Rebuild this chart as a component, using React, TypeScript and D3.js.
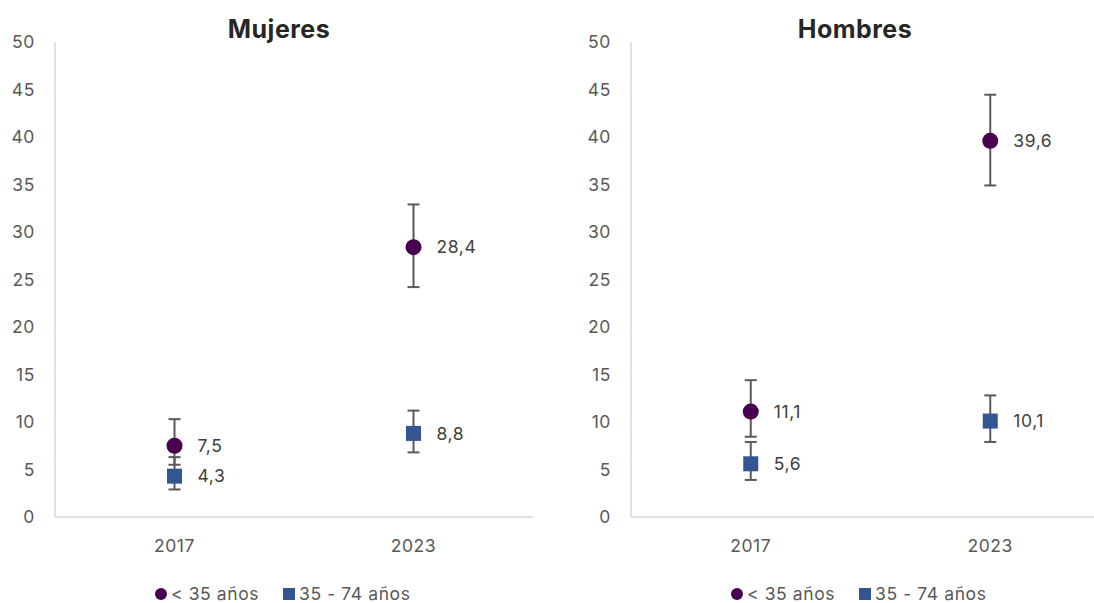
import React from "react";
import * as d3 from "d3";

const categories = ["2017", "2023"];
const yTicks = [0, 5, 10, 15, 20, 25, 30, 35, 40, 45, 50];
const seriesNames = ["< 35 años", "35 - 74 años"];

const mujeresYoung = [7.5, 28.4];
const mujeresYoungLow = [5.5, 24.2];
const mujeresYoungHigh = [10.3, 32.9];
const mujeresOld = [4.3, 8.8];
const mujeresOldLow = [2.9, 6.8];
const mujeresOldHigh = [6.3, 11.2];

const hombresYoung = [11.1, 39.6];
const hombresYoungLow = [8.45, 34.9];
const hombresYoungHigh = [14.4, 44.45];
const hombresOld = [5.6, 10.1];
const hombresOldLow = [3.9, 7.9];
const hombresOldHigh = [7.9, 12.8];

const COLOR_YOUNG = "#48004f";
const COLOR_OLD = "#335592";
const FONT = "Inter, 'Open Sans', sans-serif";
const FS = 17.5;
const LS = 0.6;

type Series = { values: number[]; low: number[]; high: number[]; shape: "circle" | "square"; color: string };

function Panel(props: {
  title: string;
  titleX: number;
  x0: number;
  x1: number;
  series: Series[];
}) {
  const { title, titleX, x0, x1, series } = props;
  const y = d3.scaleLinear().domain([0, 50]).range([517, 42]);
  const x = d3.scaleBand<string>().domain(categories).range([x0, x1]);
  const cx = (c: string) => (x(c) as number) + x.bandwidth() / 2;
  const legendX = titleX - 118;
  return (
    <g>
      <text x={titleX} y={38} textAnchor="middle" fontFamily={FONT} fontWeight={700} fontSize={25} letterSpacing={0.5} fill="#262626">
        {title}
      </text>
      {yTicks.map((t) => (
        <text key={t} x={x0 - 20} y={y(t)} dy="0.35em" textAnchor="end" fontFamily={FONT} fontSize={FS} letterSpacing={LS} fill="#595959">
          {t}
        </text>
      ))}
      <line x1={x0} x2={x0} y1={y(50)} y2={y(0)} stroke="#d9d9d9" strokeWidth={1.5} />
      <line x1={x0} x2={x1} y1={y(0)} y2={y(0)} stroke="#d9d9d9" strokeWidth={1.5} />
      {categories.map((c) => (
        <text key={c} x={cx(c)} y={546} dy="0.35em" textAnchor="middle" fontFamily={FONT} fontSize={FS} letterSpacing={LS} fill="#595959">
          {c}
        </text>
      ))}
      {series.map((s, si) =>
        categories.map((c, i) => {
          const px = cx(c);
          const yl = y(s.low[i]);
          const yh = y(s.high[i]);
          return (
            <g key={si + "-" + c}>
              <line x1={px} x2={px} y1={yh} y2={yl} stroke="#595959" strokeWidth={2} />
              <line x1={px - 6} x2={px + 6} y1={yh} y2={yh} stroke="#595959" strokeWidth={2} />
              <line x1={px - 6} x2={px + 6} y1={yl} y2={yl} stroke="#595959" strokeWidth={2} />
            </g>
          );
        })
      )}
      {series.map((s, si) =>
        categories.map((c, i) => {
          const px = cx(c);
          const py = y(s.values[i]);
          return (
            <g key={"m" + si + "-" + c}>
              {s.shape === "circle" ? (
                <circle cx={px} cy={py} r={8} fill={s.color} />
              ) : (
                <rect x={px - 7.5} y={py - 7.5} width={15} height={15} fill={s.color} />
              )}
              <text x={px + 23} y={py} dy="0.35em" fontFamily={FONT} fontSize={FS} letterSpacing={LS} fill="#404040">
                {d3.format(".1f")(s.values[i]).replace(".", ",")}
              </text>
            </g>
          );
        })
      )}
      <g>
        <circle cx={legendX} cy={594} r={6} fill={COLOR_YOUNG} />
        <text x={legendX + 10} y={594} dy="0.35em" fontFamily={FONT} fontSize={FS} letterSpacing={LS} fill="#595959">
          {seriesNames[0]}
        </text>
        <rect x={legendX + 122} y={588} width={12} height={12} fill={COLOR_OLD} />
        <text x={legendX + 138} y={594} dy="0.35em" fontFamily={FONT} fontSize={FS} letterSpacing={LS} fill="#595959">
          {seriesNames[1]}
        </text>
      </g>
    </g>
  );
}

export default function App() {
  return (
    <svg width={1094} height={603} style={{ position: "absolute", left: 0, top: 0, background: "#fff" }}>
      <Panel
        title="Mujeres"
        titleX={279}
        x0={55}
        x1={533}
        series={[
          { values: mujeresYoung, low: mujeresYoungLow, high: mujeresYoungHigh, shape: "circle", color: COLOR_YOUNG },
          { values: mujeresOld, low: mujeresOldLow, high: mujeresOldHigh, shape: "square", color: COLOR_OLD },
        ]}
      />
      <Panel
        title="Hombres"
        titleX={855}
        x0={631}
        x1={1110}
        series={[
          { values: hombresYoung, low: hombresYoungLow, high: hombresYoungHigh, shape: "circle", color: COLOR_YOUNG },
          { values: hombresOld, low: hombresOldLow, high: hombresOldHigh, shape: "square", color: COLOR_OLD },
        ]}
      />
    </svg>
  );
}
